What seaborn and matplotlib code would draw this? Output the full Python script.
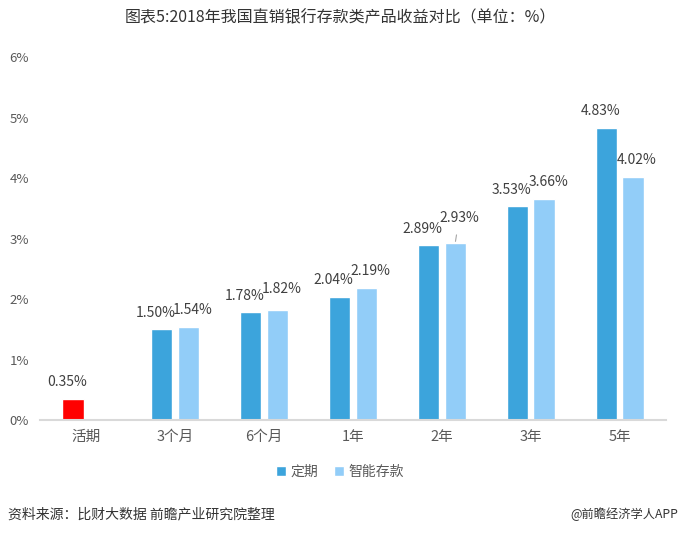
import matplotlib
matplotlib.use("Agg")
import matplotlib.pyplot as plt
import seaborn as sns
import pandas as pd
import numpy as np
from matplotlib.patches import Patch

categories = ["活期", "3个月", "6个月", "1年", "2年", "3年", "5年"]
fixed_vals = [0.35, 1.50, 1.78, 2.04, 2.89, 3.53, 4.83]     # 定期
smart_vals = [np.nan, 1.54, 1.82, 2.19, 2.93, 3.66, 4.02]   # 智能存款
series_names = ["定期", "智能存款"]
ytick_vals = [0, 1, 2, 3, 4, 5, 6]

sns.set_theme(style="white")
plt.rcParams['font.family'] = ['Noto Sans CJK SC', 'DejaVu Sans']

df = pd.DataFrame({
    "cat": categories * 2,
    "val": fixed_vals + smart_vals,
    "series": [series_names[0]] * len(categories) + [series_names[1]] * len(categories),
})

c_fixed = "#3CA4DC"
c_smart = "#92CDF8"
c_red = "#FF0000"
gray = "#595959"
lab = "#404040"

fig = plt.figure(figsize=(6.8, 5.33), dpi=100)
ax = fig.add_axes([0.0588, 0.212, 0.9206, 0.681])

sns.barplot(data=df, x="cat", y="val", hue="series", order=categories,
            hue_order=series_names, palette=[c_fixed, c_smart],
            width=0.6, gap=0.2, ax=ax, legend=False, saturation=1)

# first bar (活期) red
ax.containers[0].patches[0].set_facecolor(c_red)

ax.set_ylim(0, 6)
ax.set_xlim(-0.52, 6.52)
ax.set_yticks(ytick_vals)
ax.set_yticklabels([f"{v}%" for v in ytick_vals], fontsize=9.5, color=gray)
ax.set_xticks(range(len(categories)))
ax.set_xticklabels(categories, fontsize=10.5, color=gray)
ax.tick_params(axis="y", length=0, pad=8)
ax.tick_params(axis="x", length=0, pad=7)
ax.set_xlabel("")
ax.set_ylabel("")
for s in ["top", "right", "left"]:
    ax.spines[s].set_visible(False)
ax.spines["bottom"].set_color("#D9D9D9")
ax.spines["bottom"].set_linewidth(1.5)

# extra vertical nudges (points) for crowded labels: (series index, category)
extra_up = {(1, "6个月"): 3, (1, "2年"): 6}
leader = {(1, "2年")}

# value labels
for ci, cont in enumerate(ax.containers):
    cats = [c for c, v in zip(categories, fixed_vals if ci == 0 else smart_vals) if not np.isnan(v)]
    vals = [v for v in (fixed_vals if ci == 0 else smart_vals) if not np.isnan(v)]
    dx = -6 if ci == 0 else 4
    for p, v, c in zip(cont.patches, vals, cats):
        x = p.get_x() + p.get_width() / 2
        up = 12 + extra_up.get((ci, c), 0)
        if (ci, c) in leader:
            ax.annotate(f"{v:.2f}%", xy=(x, p.get_height()), xytext=(dx * 0.72, up),
                        textcoords="offset points", ha="center", va="center",
                        fontsize=10, color=lab,
                        arrowprops=dict(arrowstyle="-", color="#A6A6A6", lw=0.8,
                                        shrinkA=5, shrinkB=1))
        else:
            ax.annotate(f"{v:.2f}%", xy=(x, p.get_height()), xytext=(dx * 0.72, up),
                        textcoords="offset points", ha="center", va="center",
                        fontsize=10, color=lab)

fig.text(0.5, 1 - 18 / 533, "图表5:2018年我国直销银行存款类产品收益对比（单位：%）",
         ha="center", va="center", fontsize=11.5, color="#333333")

handles = [Patch(facecolor=c_fixed), Patch(facecolor=c_smart)]
fig.legend(handles, series_names, loc="center", bbox_to_anchor=(0.5, 1 - 472 / 533),
           ncol=2, frameon=False, fontsize=10, handlelength=0.7, handleheight=0.7,
           handletextpad=0.3, columnspacing=1.2, labelcolor=gray)

fig.text(8 / 680, 1 - 514 / 533, "资料来源：比财大数据 前瞻产业研究院整理",
         ha="left", va="center", fontsize=10, color="#333333", style="italic")
fig.text(678 / 680, 1 - 514 / 533, "@前瞻经济学人APP",
         ha="right", va="center", fontsize=8.8, color="#333333")

fig.savefig("out.png", dpi=100)
